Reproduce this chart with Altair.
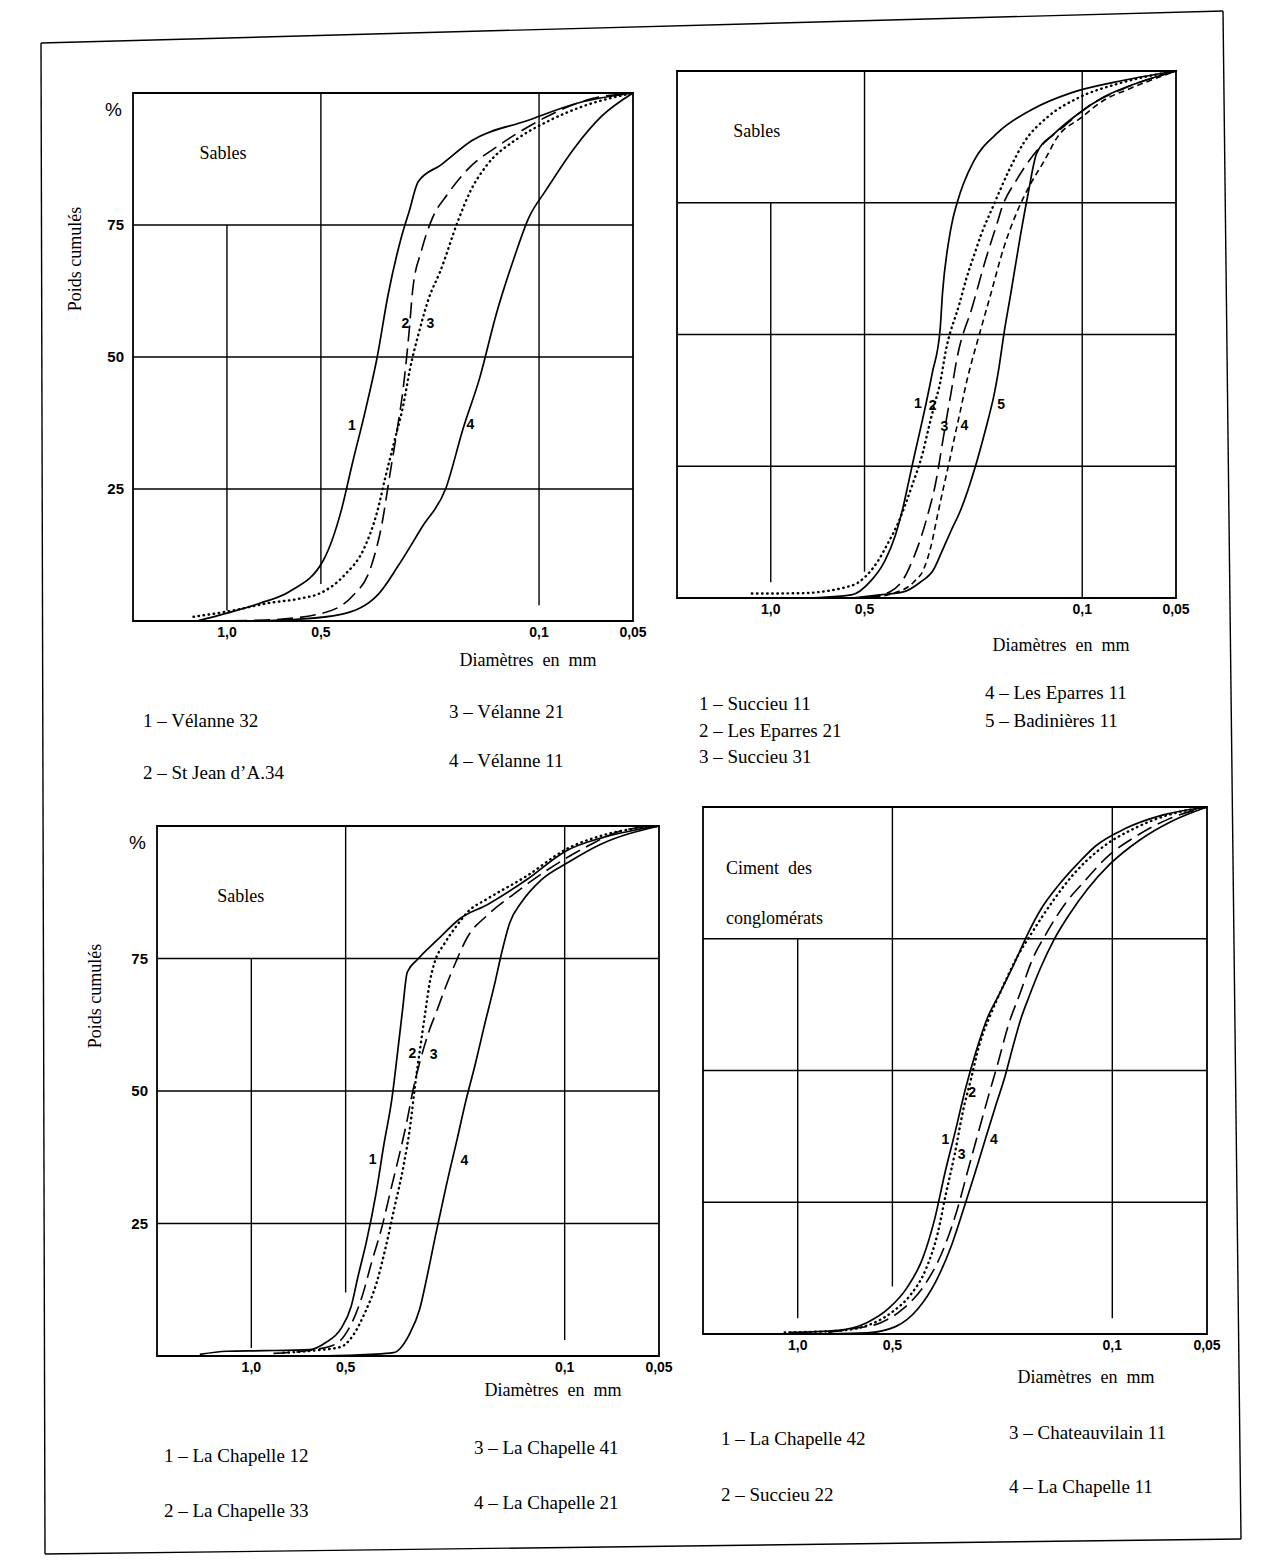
import altair as alt
import pandas as pd

# ---------------- shared axis values ----------------
X_DOMAIN = [0.05, 2.0]
Y_DOMAIN = [0, 100]
X_TICKS = [1.0, 0.5, 0.1, 0.05]
X_TICK_LABELS = ["1,0", "0,5", "0,1", "0,05"]
Y_TICKS = [25, 50, 75]
Y_TICK_LABELS = ["25", "50", "75"]
Y_TOP_LABEL = "%"
H_GRID = [25, 50, 75]
V_GRID = [1.0, 0.5, 0.1]
V_GRID_TOP = [75, 100, 100]
X_TITLE = "Diamètres\u00a0\u00a0en\u00a0\u00a0mm"
Y_TITLE = "Poids cumulés"

# ---------------- panel 1 : Sables ----------------
P1_C1_D = [1.25, 1.0, 0.78, 0.63, 0.49, 0.43, 0.397, 0.36, 0.33, 0.305, 0.277, 0.26, 0.244, 0.206, 0.164, 0.11, 0.074, 0.05]
P1_C1_P = [0, 1.5, 3.4, 5.6, 11.6, 21, 29.7, 39.9, 50, 61.6, 72.4, 77.8, 83.2, 86.4, 91, 94.7, 98.2, 100]
P1_C2_D = [1.15, 0.75, 0.5, 0.398, 0.344, 0.318, 0.301, 0.286, 0.272, 0.261, 0.254, 0.238, 0.22, 0.196, 0.165, 0.139, 0.096, 0.072, 0.05]
P1_C2_P = [0, 0.2, 1.4, 4.6, 10.6, 18.7, 27.5, 35.6, 44.4, 54.6, 62.7, 70.2, 76.2, 80.9, 86.2, 89.5, 95.3, 98.5, 100]
P1_C3_D = [1.28, 0.975, 0.736, 0.59, 0.497, 0.42, 0.362, 0.33, 0.31, 0.29, 0.272, 0.259, 0.243, 0.225, 0.208, 0.181, 0.166, 0.148, 0.117, 0.094, 0.073, 0.05]
P1_C3_P = [0.8, 1.9, 3.4, 4.2, 5.4, 8.7, 14, 20.7, 27.5, 34.3, 41, 47.8, 54.5, 61.3, 66, 76.1, 81.4, 86.1, 91.4, 94.6, 97.4, 100]
P1_C4_D = [0.8, 0.6, 0.435, 0.327, 0.283, 0.237, 0.199, 0.175, 0.155, 0.137, 0.12, 0.108, 0.095, 0.077, 0.063, 0.05]
P1_C4_P = [0, 0.3, 1.2, 5.1, 10.4, 17.8, 25.1, 36.5, 46, 58.2, 68.9, 76.3, 81.6, 89.6, 95.6, 100]
P1_STYLES = ["solid", "long", "dot", "solid"]
P1_NUM = ["1", "2", "3", "4"]
P1_NUM_D = [0.398, 0.268, 0.223, 0.166]
P1_NUM_P = [36.9, 56.3, 56.2, 37.2]
P1_NOTE = ["Sables"]
P1_NOTE_D = [1.03]
P1_NOTE_P = [88.5]
P1_VGRID_BOTTOM = [2, 7, 3]
P1_LEG_A = ["1 – Vélanne 32", "2 – St Jean d’A.34"]
P1_LEG_B = ["3 – Vélanne 21", "4 – Vélanne 11"]

# ---------------- panel 2 : Sables ----------------
P2_C1_D = [0.75, 0.55, 0.478, 0.431, 0.398, 0.377, 0.361, 0.346, 0.331, 0.317, 0.303, 0.286, 0.281, 0.268, 0.261, 0.251, 0.241, 0.223, 0.186, 0.145, 0.108, 0.0786, 0.05]
P2_C1_P = [0, 0.6, 3.2, 6.95, 11.9, 16.95, 22, 27, 32, 37, 42.7, 50.9, 57.8, 67.9, 71.6, 75.4, 78.5, 82.9, 88.4, 92.7, 95.9, 97.9, 100]
P2_C2_D = [1.15, 0.81, 0.547, 0.5, 0.453, 0.418, 0.393, 0.352, 0.325, 0.312, 0.299, 0.286, 0.274, 0.248, 0.235, 0.222, 0.211, 0.194, 0.171, 0.154, 0.129, 0.103, 0.0767, 0.05]
P2_C2_P = [0.85, 0.9, 2.4, 3.9, 7.0, 10.7, 13.8, 21.3, 27.6, 32, 36.4, 40.8, 47, 55.8, 60.8, 65.2, 69, 74.1, 81.4, 86.4, 91.3, 94.9, 97.6, 100]
P2_C3_D = [0.5, 0.414, 0.374, 0.346, 0.328, 0.31, 0.297, 0.289, 0.28, 0.272, 0.264, 0.252, 0.225, 0.205, 0.187, 0.181, 0.163, 0.136, 0.114, 0.094, 0.074, 0.05]
P2_C3_P = [0, 1.2, 3.7, 8.0, 11.8, 16.8, 21.2, 25, 30, 34.4, 38.8, 45.7, 55.4, 63.9, 71.4, 74.1, 79.2, 85.7, 89.6, 93.6, 96.6, 100]
P2_C4_D = [0.5, 0.404, 0.348, 0.323, 0.306, 0.292, 0.28, 0.268, 0.257, 0.246, 0.236, 0.226, 0.214, 0.197, 0.179, 0.16, 0.148, 0.132, 0.12, 0.101, 0.085, 0.0714, 0.05]
P2_C4_P = [0, 0.9, 3.0, 5.45, 9.8, 15.5, 20.5, 25.5, 30.5, 35.6, 40.6, 45, 50, 57.5, 66.3, 74, 78.1, 83.1, 87.5, 91.1, 94.5, 96.5, 100]
P2_C5_D = [0.55, 0.446, 0.376, 0.332, 0.3, 0.281, 0.263, 0.246, 0.233, 0.221, 0.209, 0.2, 0.192, 0.186, 0.178, 0.17, 0.158, 0.149, 0.14, 0.123, 0.1035, 0.085, 0.0645, 0.05]
P2_C5_P = [0, 0.6, 1.15, 2.95, 5.4, 9.1, 12.9, 16.6, 20.4, 24.7, 29.8, 34.1, 38.5, 42.9, 50.5, 57.4, 68.7, 76.9, 84.4, 88.1, 91.8, 95.1, 98, 100]
P2_STYLES = ["solid", "dot", "long", "short", "solid"]
P2_NUM = ["1", "2", "3", "4", "5"]
P2_NUM_D = [0.337, 0.302, 0.277, 0.239, 0.182]
P2_NUM_P = [36.8, 36.5, 32.4, 32.6, 36.7]
P2_NOTE = ["Sables"]
P2_NOTE_D = [1.11]
P2_NOTE_P = [88.5]
P2_VGRID_BOTTOM = [3, 5, 0]
P2_LEG_A = ["1 – Succieu 11", "2 – Les Eparres 21", "3 – Succieu 31"]
P2_LEG_B = ["4 – Les Eparres 11", "5 – Badinières 11"]

# ---------------- panel 3 : Sables ----------------
P3_C1_D = [1.46, 1.2, 0.91, 0.65, 0.58, 0.517, 0.48, 0.457, 0.428, 0.401, 0.377, 0.356, 0.342, 0.329, 0.318, 0.295, 0.255, 0.215, 0.176, 0.132, 0.099, 0.0748, 0.05]
P3_C1_P = [0.3, 0.9, 1.0, 1.2, 2.5, 5.2, 9.4, 14.9, 21.9, 30.3, 40.1, 48.5, 56.9, 65.4, 72.4, 74.8, 78.5, 82.6, 85.2, 89.9, 95.3, 97.9, 100]
P3_C2_D = [0.79, 0.614, 0.519, 0.476, 0.436, 0.397, 0.373, 0.349, 0.327, 0.311, 0.3, 0.289, 0.278, 0.269, 0.26, 0.242, 0.221, 0.203, 0.176, 0.132, 0.099, 0.075, 0.05]
P3_C2_P = [0.6, 1.1, 1.7, 3.7, 7.9, 14.1, 20.4, 28.1, 35.8, 43.5, 51.2, 58.2, 65.2, 70.8, 74.3, 77.8, 81.2, 83.9, 86.3, 90.6, 95.6, 98.3, 100]
P3_C3_D = [0.85, 0.614, 0.533, 0.489, 0.446, 0.413, 0.382, 0.358, 0.335, 0.319, 0.304, 0.29, 0.272, 0.256, 0.241, 0.223, 0.204, 0.177, 0.145, 0.115, 0.0863, 0.065, 0.05]
P3_C3_P = [0.5, 1.3, 2.4, 5.1, 10.7, 17.7, 24.6, 31.6, 38.6, 44.2, 50.5, 55.4, 61, 65.1, 69.3, 74.2, 79.1, 83.1, 87.2, 91.5, 95.9, 99.2, 100]
P3_C4_D = [0.6, 0.42, 0.352, 0.313, 0.29, 0.276, 0.258, 0.239, 0.22, 0.207, 0.193, 0.181, 0.167, 0.159, 0.15, 0.137, 0.119, 0.097, 0.077, 0.05]
P3_C4_P = [0, 0.3, 0.64, 4.1, 8.9, 14.5, 22.9, 32, 41.1, 48, 55, 62, 70.4, 76, 81.6, 85.7, 89.8, 93.2, 96.5, 100]
P3_STYLES = ["solid", "dot", "long", "solid"]
P3_NUM = ["1", "2", "3", "4"]
P3_NUM_D = [0.41, 0.306, 0.262, 0.209]
P3_NUM_P = [37, 56.9, 56.7, 36.8]
P3_NOTE = ["Sables"]
P3_NOTE_D = [1.08]
P3_NOTE_P = [86.6]
P3_VGRID_BOTTOM = [1.5, 12, 3]
P3_LEG_A = ["1 – La Chapelle 12", "2 – La Chapelle 33"]
P3_LEG_B = ["3 – La Chapelle 41", "4 – La Chapelle 21"]

# ---------------- panel 4 : Ciment des conglomérats ----------------
P4_C1_D = [1.07, 0.743, 0.601, 0.513, 0.448, 0.401, 0.367, 0.34, 0.316, 0.293, 0.272, 0.249, 0.23, 0.205, 0.184, 0.169, 0.148, 0.129, 0.113, 0.091, 0.0698, 0.05]
P4_C1_P = [0.3, 0.7, 2.2, 4.9, 8.9, 14.3, 21.8, 30.7, 38.3, 46.5, 53.3, 60.1, 64.2, 70.3, 76.4, 80.5, 85.2, 89.2, 92.6, 95.9, 98.4, 100]
P4_C2_D = [1.1, 0.75, 0.602, 0.5, 0.437, 0.392, 0.359, 0.338, 0.317, 0.298, 0.281, 0.265, 0.243, 0.224, 0.2, 0.179, 0.156, 0.133, 0.11, 0.084, 0.0646, 0.05]
P4_C2_P = [0.3, 0.6, 1.6, 4.2, 7.5, 12.2, 19.1, 26.6, 34.1, 42.4, 48.5, 54.7, 60.8, 65.6, 71.7, 76.4, 81.8, 87.2, 91.9, 96.1, 98.7, 100]
P4_C3_D = [0.8, 0.668, 0.542, 0.462, 0.393, 0.351, 0.313, 0.287, 0.267, 0.248, 0.23, 0.214, 0.196, 0.18, 0.161, 0.141, 0.123, 0.104, 0.0843, 0.0663, 0.05]
P4_C3_P = [0.3, 1.0, 2.2, 4.8, 9.5, 14.9, 23.1, 31.3, 38.1, 45, 51.8, 58.6, 64.8, 70.9, 76.3, 81.7, 85.8, 90.5, 94.4, 97.7, 100]
P4_C4_D = [0.8, 0.603, 0.489, 0.416, 0.363, 0.324, 0.297, 0.273, 0.254, 0.236, 0.219, 0.207, 0.195, 0.184, 0.169, 0.153, 0.137, 0.12, 0.102, 0.082, 0.0647, 0.05]
P4_C4_P = [0, 0.2, 1.4, 4.7, 10.1, 16.9, 23.7, 30.6, 36.7, 42.9, 49, 54.5, 59.9, 64, 69.5, 74.9, 79.6, 84.4, 89.1, 93.7, 97.3, 100]
P4_STYLES = ["solid", "dot", "long", "solid"]
P4_NUM = ["1", "2", "3", "4"]
P4_NUM_D = [0.339, 0.279, 0.301, 0.238]
P4_NUM_P = [36.9, 45.8, 34, 36.8]
P4_NOTE = ["Ciment\u00a0\u00a0des", "conglomérats"]
P4_NOTE_D = [1.69, 1.69]
P4_NOTE_P = [88.3, 78.7]
P4_VGRID_BOTTOM = [3, 9, 3]
P4_LEG_A = ["1 – La Chapelle 42", "2 – Succieu 22"]
P4_LEG_B = ["3 – Chateauvilain 11", "4 – La Chapelle 11"]

# ---------------- styling / layout ----------------
SANS = "Liberation Sans"
SERIF = "Liberation Serif"
CELL_W, CELL_H = 620, 760
LINE_STYLE = {
    "solid": dict(strokeWidth=1.7),
    "dot": dict(strokeWidth=2.4, strokeDash=[0.5, 4.6], strokeCap="round"),
    "long": dict(strokeWidth=1.6, strokeDash=[16, 7]),
    "short": dict(strokeWidth=1.6, strokeDash=[6, 4]),
}
# scanned page border (cell-1 pixel coordinates): decoration only
PAGE_BORDER = [((32, 34), (1214, 2)), ((1214, 2), (1232, 1530)), ((32, 34), (36, 1545)), ((36, 1545), (1232, 1530))]


def one(text):
    return pd.DataFrame({"t": [text]})


def make_panel(curves, styles, num, num_d, num_p, note, note_d, note_p, note_align,
               vgrid_bottom, leg_a, leg_b, leg_pos, origin, size, xtitle_rel,
               ytitle_rel=None, border=False):
    ox, oy = origin
    w, h = size
    xs = alt.Scale(type="log", domain=X_DOMAIN, range=[ox + w, ox], nice=False)
    ys = alt.Scale(domain=Y_DOMAIN, range=[oy + h, oy], nice=False, zero=False)

    def X(field):
        return alt.X(field, type="quantitative", scale=xs, axis=None)

    def Y(field):
        return alt.Y(field, type="quantitative", scale=ys, axis=None)

    layers = []
    frame = pd.DataFrame({"x0": [X_DOMAIN[1]], "x1": [X_DOMAIN[0]], "y0": [Y_DOMAIN[0]], "y1": [Y_DOMAIN[1]]})
    layers.append(alt.Chart(frame).mark_rect(filled=False, color="black", strokeWidth=1.8).encode(
        x=X("x0"), x2="x1:Q", y=Y("y0"), y2="y1:Q"))
    hgrid = pd.DataFrame({"y": H_GRID, "x0": [X_DOMAIN[1]] * len(H_GRID), "x1": [X_DOMAIN[0]] * len(H_GRID)})
    layers.append(alt.Chart(hgrid).mark_rule(color="black", strokeWidth=1.4).encode(
        x=X("x0"), x2="x1:Q", y=Y("y")))
    vgrid = pd.DataFrame({"x": V_GRID, "y0": vgrid_bottom, "y1": V_GRID_TOP})
    layers.append(alt.Chart(vgrid).mark_rule(color="black", strokeWidth=1.4).encode(
        x=X("x"), y=Y("y0"), y2="y1:Q"))

    for (d, p), st in zip(curves, styles):
        df = pd.DataFrame({"d": d, "pct": p, "i": list(range(len(d)))})
        layers.append(alt.Chart(df).mark_line(color="black", interpolate="monotone", **LINE_STYLE[st]).encode(
            x=X("d"), y=Y("pct"), order="i:Q"))

    nums = pd.DataFrame({"t": num, "d": num_d, "pct": num_p})
    layers.append(alt.Chart(nums).mark_text(font=SANS, fontSize=14, fontWeight="bold", color="black").encode(
        x=X("d"), y=Y("pct"), text="t:N"))
    notes = pd.DataFrame({"t": note, "d": note_d, "pct": note_p})
    layers.append(alt.Chart(notes).mark_text(font=SERIF, fontSize=18, color="black", align=note_align).encode(
        x=X("d"), y=Y("pct"), text="t:N"))

    # x tick labels
    xt = pd.DataFrame({"x": X_TICKS, "y": [Y_DOMAIN[0]] * len(X_TICKS), "t": X_TICK_LABELS})
    layers.append(alt.Chart(xt).mark_text(font=SANS, fontSize=14, fontWeight="bold", color="black",
                                          baseline="top", dy=5).encode(x=X("x"), y=Y("y"), text="t:N"))
    # x title
    layers.append(alt.Chart(one(X_TITLE)).mark_text(font=SERIF, fontSize=18, color="black").encode(
        x=alt.value(ox + xtitle_rel[0]), y=alt.value(oy + xtitle_rel[1]), text="t:N"))

    if ytitle_rel is not None:
        yt = pd.DataFrame({"x": [X_DOMAIN[1]] * len(Y_TICKS), "y": Y_TICKS, "t": Y_TICK_LABELS})
        layers.append(alt.Chart(yt).mark_text(font=SANS, fontSize=15, fontWeight="bold", color="black",
                                              align="right", dx=-9).encode(x=X("x"), y=Y("y"), text="t:N"))
        ytop = pd.DataFrame({"x": [X_DOMAIN[1]], "y": [Y_DOMAIN[1]], "t": [Y_TOP_LABEL]})
        layers.append(alt.Chart(ytop).mark_text(font=SANS, fontSize=19, color="black",
                                                align="right", baseline="top", dx=-11, dy=8).encode(
            x=X("x"), y=Y("y"), text="t:N"))
        layers.append(alt.Chart(one(Y_TITLE)).mark_text(font=SERIF, fontSize=18, color="black", angle=270).encode(
            x=alt.value(ox + ytitle_rel[0]), y=alt.value(oy + ytitle_rel[1]), text="t:N"))

    (ax, ay, agap), (bx, by, bgap) = leg_pos
    for col, (x0, y0, gap) in ((leg_a, (ax, ay, agap)), (leg_b, (bx, by, bgap))):
        for k, label in enumerate(col):
            layers.append(alt.Chart(one(label)).mark_text(
                font=SERIF, fontSize=19, color="black", align="left", baseline="middle").encode(
                x=alt.value(ox + x0), y=alt.value(oy + y0 + k * gap), text="t:N"))

    if border:
        for (xa, ya), (xb, yb) in PAGE_BORDER:
            layers.append(alt.Chart(one("")).mark_rule(color="black", strokeWidth=1.4).encode(
                x=alt.value(xa), y=alt.value(ya), x2=alt.value(xb), y2=alt.value(yb)))

    return alt.layer(*layers).properties(width=CELL_W, height=CELL_H)


p1 = make_panel(
    [(P1_C1_D, P1_C1_P), (P1_C2_D, P1_C2_P), (P1_C3_D, P1_C3_P), (P1_C4_D, P1_C4_P)], P1_STYLES,
    P1_NUM, P1_NUM_D, P1_NUM_P, P1_NOTE, P1_NOTE_D, P1_NOTE_P, "center",
    P1_VGRID_BOTTOM, P1_LEG_A, P1_LEG_B, ((10, 628, 52), (316, 619, 49)),
    (124, 84), (500, 528), (395, 568), ytitle_rel=(-57, 166), border=True)
p2 = make_panel(
    [(P2_C1_D, P2_C1_P), (P2_C2_D, P2_C2_P), (P2_C3_D, P2_C3_P), (P2_C4_D, P2_C4_P), (P2_C5_D, P2_C5_P)], P2_STYLES,
    P2_NUM, P2_NUM_D, P2_NUM_P, P2_NOTE, P2_NOTE_D, P2_NOTE_P, "center",
    P2_VGRID_BOTTOM, P2_LEG_A, P2_LEG_B, ((22, 633, 26.5), (308, 622, 28)),
    (48, 62), (499, 527), (384, 575))
p3 = make_panel(
    [(P3_C1_D, P3_C1_P), (P3_C2_D, P3_C2_P), (P3_C3_D, P3_C3_P), (P3_C4_D, P3_C4_P)], P3_STYLES,
    P3_NUM, P3_NUM_D, P3_NUM_P, P3_NOTE, P3_NOTE_D, P3_NOTE_P, "center",
    P3_VGRID_BOTTOM, P3_LEG_A, P3_LEG_B, ((7, 630, 55), (317, 622, 55)),
    (148, 57), (502, 530), (396, 565), ytitle_rel=(-61, 170))
p4 = make_panel(
    [(P4_C1_D, P4_C1_P), (P4_C2_D, P4_C2_P), (P4_C3_D, P4_C3_P), (P4_C4_D, P4_C4_P)], P4_STYLES,
    P4_NUM, P4_NUM_D, P4_NUM_P, P4_NOTE, P4_NOTE_D, P4_NOTE_P, "left",
    P4_VGRID_BOTTOM, P4_LEG_A, P4_LEG_B, ((18, 632, 56), (306, 626, 54)),
    (74, 38), (504, 527), (383, 571))

chart = alt.concat(p1, p2, p3, p4, columns=2, spacing=0, bounds="flush").properties(
    padding=0, background="white",
).configure_view(stroke="transparent")

chart.save("out.html", embed_options={"renderer": "svg", "actions": False})
